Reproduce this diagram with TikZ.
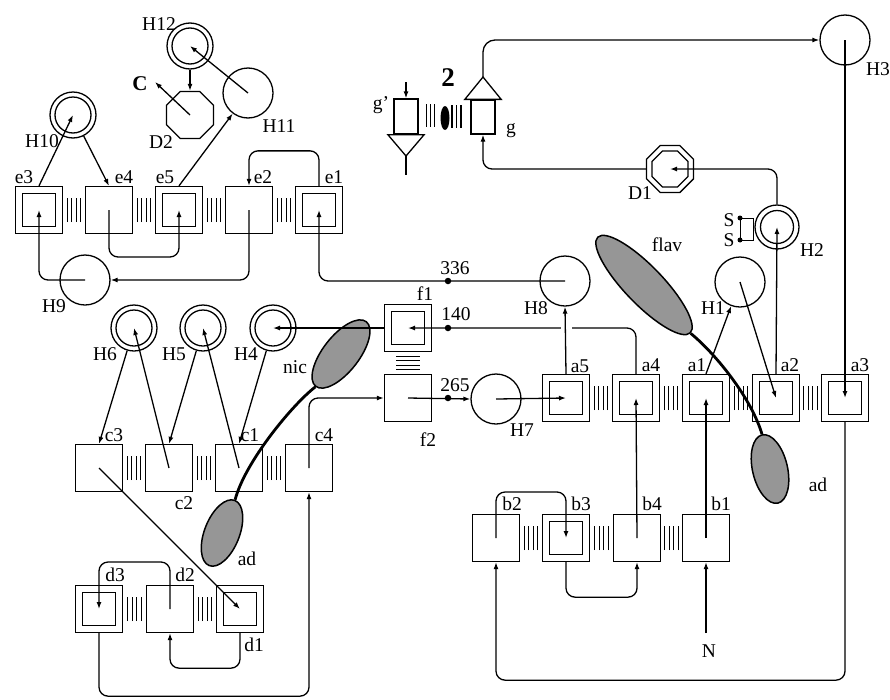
\documentclass[tikz,border=0pt]{standalone}
\usepackage{fontspec}
\setmainfont{Liberation Serif}
\usetikzlibrary{arrows.meta,shapes.geometric,calc}
\newcommand\vbars[2]{\foreach \k in {-6.6,-2.2,2.2,6.6}{\draw[bar] ($($(#1)!0.5!(#2)$)+(\k pt,-12pt)$) -- ++(0pt,24pt);}}
\begin{document}
\begin{tikzpicture}[x=1pt,y=-1pt,
  ln/.style={line width=1.3pt},
  conn/.style={ln,-{Latex[length=7pt,width=5pt]},rounded corners=9pt},
  sbox/.style={draw,ln,minimum size=47pt,inner sep=0pt},
  dbox/.style={sbox,path picture={\draw[ln] ([shift={(7pt,7pt)}]path picture bounding box.south west) rectangle ([shift={(-7pt,-7pt)}]path picture bounding box.north east);}},
  scirc/.style={draw,ln,circle,minimum size=50pt,inner sep=0pt},
  dcirc/.style={draw,ln,circle,minimum size=46pt,inner sep=0pt,path picture={\draw[ln] (path picture bounding box.center) circle (18pt);}},
  oct/.style={draw,ln,regular polygon,regular polygon sides=8,minimum size=51pt,inner sep=0pt},
  lab/.style={font=\fontsize{19.5}{22}\selectfont,inner sep=0pt,text height=13pt,text depth=0pt},
  gell/.style={draw,line width=1.5pt,fill={rgb,255:red,150;green,150;blue,150},ellipse,inner sep=0pt},
  dot/.style={circle,fill,minimum size=6.5pt,inner sep=0pt},
  bar/.style={line width=1.1pt},
  thk/.style={line width=2.8pt}
]
\useasboundingbox (0,0) rectangle (890,699);

% ---------- e row ----------
\node[dbox] (e3) at (39,210) {};
\node[sbox] (e4) at (109,210) {};
\node[dbox] (e5) at (179,210) {};
\node[sbox] (e2) at (249,210) {};
\node[dbox] (e1) at (319,210) {};
\vbars{e3}{e4}\vbars{e4}{e5}\vbars{e5}{e2}\vbars{e2}{e1}

\node[dcirc] (H10) at (73,115) {};
\node[dcirc] (H12) at (190,46) {};
\node[scirc] (H11) at (248,93) {};
\node[oct] (D2) at (190,115) {};
\node[scirc] (H9) at (85,280) {};
\coordinate (Ctip) at (155,82);

% ---------- g', g ----------
\node[draw,ln,minimum width=24pt,minimum height=35pt,inner sep=0pt] (gp) at (406,116.5) {};
\coordinate (gpTip) at (406,156);
\coordinate (gpIn) at (406,82);
\coordinate (gpOut) at (406,175);
\draw[ln] ($(gp.south west)+(-5.5pt,0pt)$) -- ($(gp.south east)+(5.5pt,0pt)$) -- (gpTip) -- cycle;
\node[draw,ln,minimum width=24pt,minimum height=34pt,inner sep=0pt] (g) at (483,117) {};
\coordinate (gTip) at (483,77);
\draw[ln] ($(g.north west)+(-5.5pt,0pt)$) -- ($(g.north east)+(5.5pt,0pt)$) -- (gTip) -- cycle;
\foreach \x in {426.5,430.3,434.1} \draw[bar] (\x,104) -- (\x,127);
\foreach \x in {452,456.5,461} \draw[bar] (\x,105) -- (\x,128);
\fill (445,118) ellipse (4.5pt and 12pt);

% ---------- right upper ----------
\node[scirc] (H3) at (845,40) {};
\node[oct] (D1) at (670,169) {};
\node[oct,minimum size=39pt] (D1i) at (670,169) {};
\node[dcirc,minimum size=44pt,path picture={\draw[ln] (path picture bounding box.center) circle (16.5pt);}] (H2) at (777,227) {};
\node[scirc] (H1) at (740,282) {};
\node[scirc] (H8) at (565,281) {};
\node[dot,minimum size=5pt] (sd1) at (740,218) {};
\node[dot,minimum size=5pt] (sd2) at (740,240) {};
\draw[line width=1pt] (sd1.center) -- (753,218) -- (753,240) -- (sd2.center) -- cycle;

% ---------- f, H7, a row ----------
\node[dbox] (f1) at (408,328) {};
\node[sbox] (f2) at (408,398) {};
\foreach \k in {-6.6,-2.2,2.2,6.6} \draw[bar] ($(f1)!0.5!(f2)+(-12pt,\k pt)$) -- ++(24pt,0pt);
\node[scirc] (H7) at (496,399) {};
\node[dbox] (a5) at (566,398) {};
\node[dbox] (a4) at (636,398) {};
\node[dbox] (a1) at (706,398) {};
\node[dbox] (a2) at (776,398) {};
\node[dbox] (a3) at (845,398) {};
\vbars{a5}{a4}\vbars{a4}{a1}\vbars{a1}{a2}\vbars{a2}{a3}

% ---------- H6 H5 H4, c row ----------
\node[dcirc] (H6) at (134,328) {};
\node[dcirc] (H5) at (203,328) {};
\node[dcirc] (H4) at (273,328) {};
\node[sbox] (c3) at (99,468) {};
\node[sbox] (c2) at (169,468) {};
\node[sbox] (c1) at (239,468) {};
\node[sbox] (c4) at (309,468) {};
\vbars{c3}{c2}\vbars{c2}{c1}\vbars{c1}{c4}

% ---------- d row ----------
\node[dbox] (d3) at (99,609) {};
\node[sbox] (d2) at (170,609) {};
\node[dbox] (d1) at (240,609) {};
\vbars{d3}{d2}\vbars{d2}{d1}

% ---------- b row ----------
\node[sbox] (b2) at (496,538) {};
\node[dbox] (b3) at (566,538) {};
\node[sbox] (b4) at (637,538) {};
\node[sbox] (b1) at (706,538) {};
\vbars{b2}{b3}\vbars{b3}{b4}\vbars{b4}{b1}
\coordinate (Nin) at (706,633);

% ---------- gray ellipses ----------
\node[gell,minimum width=133pt,minimum height=38pt,rotate=-46] (flav) at (644,285) {};
\node[gell,minimum width=70pt,minimum height=35pt,rotate=103] (adR) at (770,469) {};
\node[gell,minimum width=82pt,minimum height=36pt,rotate=-128] (nic) at (341,354) {};
\node[gell,minimum width=70pt,minimum height=35pt,rotate=68.5] (adL) at (222,533) {};
\draw[thk] (flav.east) .. controls (718,356) and (752,400) .. (adR.east);
\draw[thk] (nic.east) .. controls (292,405) and (245,462) .. (adL.east);

% ---------- dots ----------
\node[dot] (p336) at (448,281) {};
\node[dot] (p140) at (448,328) {};
\node[dot] (p265) at (448,398) {};

% ---------- connectors ----------
\draw[conn] (e3.north) -- (H10.center);
\draw[conn] (H10) -- (e4.north);
\draw[conn] (e5.north) -- (H11);
\draw[conn] (H11.center) -- (H12.center);
\draw[conn] (H12.south) -- (D2.north);
\draw[conn] (D2.center) -- (Ctip);
\draw[conn] (e4.center) -- ++(0,47) -| (e5.center);
\draw[conn] (H9.center) -| (e3.center);
\draw[conn] (e2.center) |- (H9.east);
\draw[conn] (e1.north) -- ++(0,-35) -| (e2.north);
\draw[conn] (H8.center) -| (e1.center);
\draw[conn] (a4.north) |- (f1.center);
\fill[white] ($(a5.center |- f1.center)+(-5.5pt,-2.5pt)$) rectangle ++(11pt,5pt);
\draw[conn] (a5.north) -- (H8.south);
\draw[conn] (f1.west) -- (H4.center);
\draw[conn] (f2.center) -- (H7.west);
\draw[conn] (H7.center) -- (a5.center);
\draw[conn] (c4.center) |- (f2.west);
\draw[conn] (H6) -- (c3.north);
\draw[conn] (c2.center) -- (H6.center);
\draw[conn] (H5) -- (c2.north);
\draw[conn] (c1.center) -- (H5.center);
\draw[conn] (H4) -- (c1.north);
\draw[conn] (c3.center) -- (d1.center);
\draw[conn] (d2.center) -- ++(0,-47) -| (d3.center);
\draw[conn] (d1.south) -- ++(0,35) -| (d2.south);
\draw[conn] (d3.south) -- ++(0,63) -| (c4.south);
\draw[conn] (b2.center) -- ++(0,-46) -| (b3.center);
\draw[conn] (b3.south) -- ++(0,35) -| (b4.south);
\draw[conn] (b4.center) -- (a4.center);
\draw[conn] (b1.center) -- (a1.center);
\draw[conn] (Nin) -- (b1.south);
\draw[conn] (a3.south) -- ++(0,258) -| (b2.south);
\draw[conn] (H3.center) -- (a3.center);
\draw[conn,rounded corners=12pt] (gTip) |- (H3.west);
\draw[conn] (H2.north) |- (D1.center);
\draw[conn] (D1.west) -| (g.south);
\draw[conn] (a2.north) -- (H2.center);
\draw[conn] (a1.north) -- (H1);
\draw[conn] (H1.center) -- (a2.center);
\draw[conn] (gpIn) -- (gp.north);
\draw[ln] (gpTip) -- (gpOut);

% ---------- labels ----------
\node[lab] (lH12) at (159,24) {H12};
\node[lab,font=\fontsize{21}{24}\selectfont\bfseries] (lC) at (140,84) {C};
\node[lab] (lD2) at (161,142) {D2};
\node[lab] (lH11) at (279,126) {H11};
\node[lab] (lH10) at (42,141) {H10};
\node[lab] (le3) at (24,177) {e3};
\node[lab] (le4) at (124,177) {e4};
\node[lab] (le5) at (165,177) {e5};
\node[lab] (le2) at (263,177) {e2};
\node[lab] (le1) at (334,177) {e1};
\node[lab] (lH9) at (54,306) {H9};
\node[lab] (lgp) at (381,102.5) {g'};
\node[lab,font=\fontsize{27}{30}\selectfont\bfseries,text height=18pt] (ltwo) at (448,77) {2};
\node[lab] (lg) at (511,127) {g};
\node[lab] (lH3) at (878,69) {H3};
\node[lab] (lD1) at (640,193) {D1};
\node[lab] (lS1) at (729,220) {S};
\node[lab] (lS2) at (729,240) {S};
\node[lab] (lflav) at (667,245) {flav};
\node[lab] (lH2) at (812,250) {H2};
\node[lab] (lH8) at (536,308) {H8};
\node[lab] (l336) at (455,268) {336};
\node[lab] (l140) at (456,314) {140};
\node[lab] (l265) at (455,385) {265};
\node[lab] (lf1) at (425,294) {f1};
\node[lab] (lf2) at (428,440) {f2};
\node[lab] (lH7) at (522,430) {H7};
\node[lab] (la5) at (580,366) {a5};
\node[lab] (la4) at (651,365) {a4};
\node[lab] (la1) at (697,365) {a1};
\node[lab] (la2) at (790,365) {a2};
\node[lab] (la3) at (860,365) {a3};
\node[lab] (lH1) at (713,308) {H1};
\node[lab] (lad1) at (818,485) {ad};
\node[lab] (lH6) at (105,354) {H6};
\node[lab] (lH5) at (174,354) {H5};
\node[lab] (lH4) at (246,354) {H4};
\node[lab] (lnic) at (295,367) {nic};
\node[lab] (lc3) at (114,435) {c3};
\node[lab] (lc1) at (250,435) {c1};
\node[lab] (lc4) at (324,435) {c4};
\node[lab] (lc2) at (184,503) {c2};
\node[lab] (lad2) at (247,559) {ad};
\node[lab] (ld3) at (115,575) {d3};
\node[lab] (ld2) at (185,575) {d2};
\node[lab] (ld1) at (254,645) {d1};
\node[lab] (lb2) at (512,504) {b2};
\node[lab] (lb3) at (581,504) {b3};
\node[lab] (lb4) at (652,504) {b4};
\node[lab] (lb1) at (721,504) {b1};
\node[lab] (lN) at (709,651) {N};
\end{tikzpicture}
\end{document}
